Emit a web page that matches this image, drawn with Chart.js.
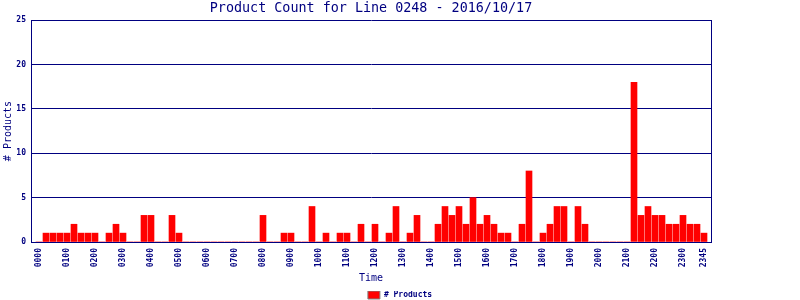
<!DOCTYPE html>
<html>
<head>
<meta charset="utf-8">
<script src="https://cdn.jsdelivr.net/npm/chart.js@4"></script>
<style>
  html, body { margin: 0; padding: 0; background: #fff; }
</style>
</head>
<body>
<canvas id="myChart" width="800" height="300"></canvas>
<script>
// 15-minute slots, 0000 .. 2345 (96 slots)
const counts = [
    0, 1, 1, 1, 1, 2, 1, 1, 1, 0, 1, 2, 1, 0, 0, 3,
    3, 0, 0, 3, 1, 0, 0, 0, 0, 0, 0, 0, 0, 0, 0, 0,
    3, 0, 0, 1, 1, 0, 0, 4, 0, 1, 0, 1, 1, 0, 2, 0,
    2, 0, 1, 4, 0, 1, 3, 0, 0, 2, 4, 3, 4, 2, 5, 2,
    3, 2, 1, 1, 0, 2, 8, 0, 1, 2, 4, 4, 0, 4, 2, 0,
    0, 0, 0, 0, 0, 18, 3, 4, 3, 3, 2, 2, 3, 2, 2, 1
];
const tickLabels = ["0000", "0100", "0200", "0300", "0400", "0500", "0600", "0700",
    "0800", "0900", "1000", "1100", "1200", "1300", "1400", "1500", "1600", "1700",
    "1800", "1900", "2000", "2100", "2200", "2300", "2345"];
const yTicks = [0, 5, 10, 15, 20, 25];

const navy = "#000080";
const mono = "'DejaVu Sans Mono', 'Liberation Mono', monospace";

const slotOf = t => parseInt(t.slice(0, 2)) * 4 + parseInt(t.slice(2)) / 15;

const ctx = document.getElementById('myChart');

new Chart(ctx, {
    type: 'bar',
    data: {
        datasets: [
            {
                label: "# Products",
                backgroundColor: "#ff0000",
                borderWidth: 0,
                barThickness: 6,
                data: counts.map((v, i) => ({ x: i, y: v }))
            }
        ]
    },
    options: {
        responsive: false,
        animation: false,
        layout: { padding: { left: 0, right: 0, top: 0, bottom: -9 } },
        scales: {
            x: {
                type: 'linear',
                offset: false,
                min: -8 / 7,
                max: 96,
                afterBuildTicks: s => { s.ticks = tickLabels.map(t => ({ value: slotOf(t) })); },
                afterFit: s => { s.height = 49; },
                grid: { offset: false, drawOnChartArea: false, drawTicks: false },
                border: { display: true, color: navy, width: 1 },
                ticks: {
                    autoSkip: false,
                    minRotation: 90,
                    maxRotation: 90,
                    padding: 6,
                    color: navy,
                    font: { family: mono, size: 8, weight: 'bold' },
                    callback: (v, i) => tickLabels[i]
                },
                title: {
                    display: true,
                    text: "Time",
                    color: navy,
                    font: { family: mono, size: 10 },
                    padding: { top: 0, bottom: 7 }
                }
            },
            y: {
                min: 0,
                max: 25,
                afterBuildTicks: s => { s.ticks = yTicks.map(v => ({ value: v })); },
                afterFit: s => { s.width = 31; },
                grid: { color: navy, drawTicks: false },
                border: { display: true, color: navy, width: 1 },
                ticks: {
                    padding: 5,
                    color: navy,
                    font: { family: mono, size: 8, weight: 'bold' }
                },
                title: {
                    display: true,
                    text: "# Products",
                    color: navy,
                    font: { family: mono, size: 10 },
                    padding: { top: 2.5, bottom: 0 }
                }
            },
            yRight: {
                position: 'right',
                min: 0,
                max: 25,
                afterFit: s => { s.width = 89; },
                grid: { drawOnChartArea: false, drawTicks: false },
                border: { display: true, color: navy, width: 1 },
                ticks: { display: false }
            }
        },
        plugins: {
            title: {
                display: true,
                fullSize: false,
                text: "Product Count for Line 0248 - 2016/10/17",
                color: navy,
                font: { family: mono, size: 13.4, weight: 'normal' },
                padding: { top: 0, bottom: 4 }
            },
            legend: {
                position: 'bottom',
                labels: {
                    boxWidth: 12,
                    boxHeight: 8,
                    padding: 0,
                    color: navy,
                    font: { family: mono, size: 8, weight: 'bold' },
                    generateLabels: chart => Chart.defaults.plugins.legend.labels.generateLabels(chart)
                        .map(l => ({ ...l, strokeStyle: "#808080", lineWidth: 1 }))
                }
            },
            tooltip: { enabled: false }
        }
    }
});
</script>
</body>
</html>
